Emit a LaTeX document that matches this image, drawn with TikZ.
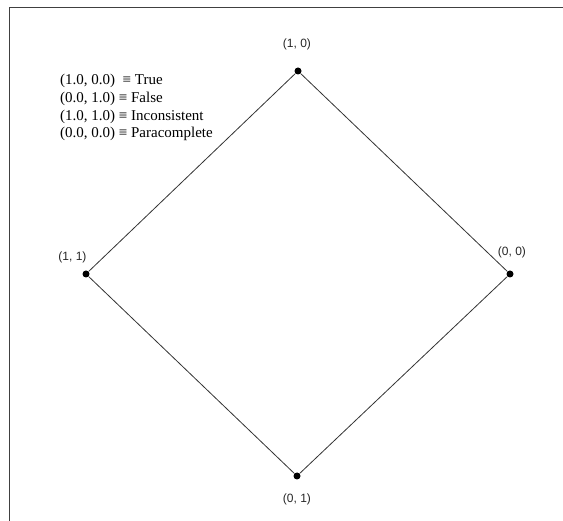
\documentclass[tikz,border=0pt]{standalone}
\usepackage{fontspec}
\setmainfont{Liberation Serif}
\setsansfont{Liberation Sans}
\usetikzlibrary{positioning}

\begin{document}
\begin{tikzpicture}[
        x=1pt, y=-1pt,
        vertex/.style={circle, fill=black, inner sep=0pt, minimum size=7pt},
        edge/.style={draw=black!80, line width=0.8pt},
        frameline/.style={draw=black!75, line width=1.4pt},
        pairlbl/.style={font=\fontsize{12}{14}\sffamily, text=black!85, inner sep=0pt},
        legend/.style={font=\fontsize{15}{17}\selectfont, anchor=west, inner sep=0pt}
    ]
        \useasboundingbox (0,0) rectangle (563,521);
        \draw[frameline] (563,7.5) -- (9.5,7.5) -- (9.5,521);
        % lattice points
        \node[vertex] (top) at (298,71) {};
        \node[vertex] (left) at (86,274) {};
        \node[vertex] (right) at (510,274) {};
        \node[vertex] (bottom) at (297,476) {};
        \draw[edge] (top) -- (right) -- (bottom) -- (left) -- (top);
        \node[pairlbl] (lbltop) at (297,44) {(1, 0)};
        \node[pairlbl] (lblleft) at (72.5,257) {(1, 1)};
        \node[pairlbl] (lblright) at (512,252) {(0, 0)};
        \node[pairlbl] (lblbottom) at (297,499) {(0, 1)};
        % legend
        \node[legend] (legtrue) at (60,81) {(1.0, 0.0) \ ≡ True};
        \node[legend] (legfalse) at (60,98.7) {(0.0, 1.0) ≡ False};
        \node[legend] (leginc) at (60,116.4) {(1.0, 1.0) ≡ Inconsistent};
        \node[legend] (legpara) at (60,134.1) {(0.0, 0.0) ≡ Paracomplete};
    \end{tikzpicture}
\end{document}
